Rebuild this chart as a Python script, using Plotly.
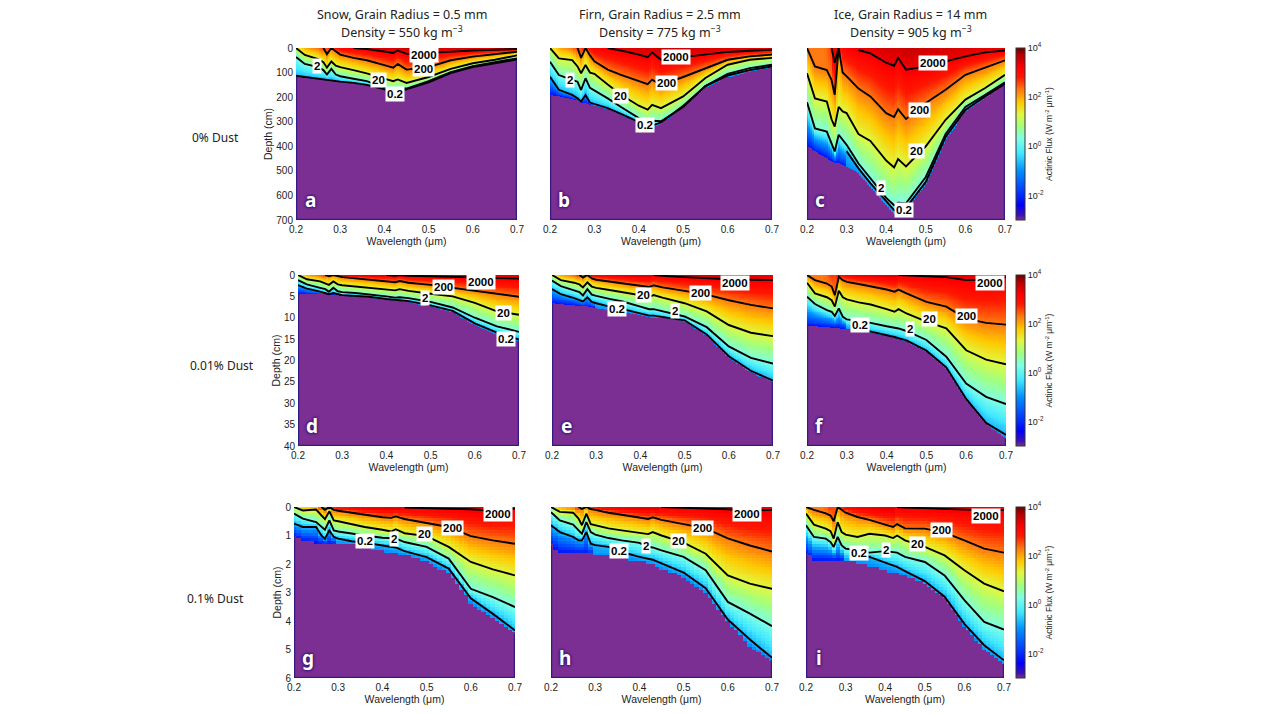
import numpy as np
import plotly.graph_objects as go

N = None
W = [.20, .22, .25, .262, .27, .28, .29, .30, .33, .36, .40, .42, .43, .45, .50, .55, .60, .65, .70]
LEVELS = [2000, 200, 20, 2, 0.2]
SURF = [1.3, 2.0, 2.4, 2.7, 2.6, 3.0, 3.1, 3.2, 3.35, 3.4, 3.5, 3.5, 3.5, 3.6, 3.55, 3.5, 3.45, 3.4, 3.35]

# Contour depths (cm) and bottom of the coloured region, per panel
a_2000 = [N, N, N, N, N, N, N, N, 0, 4, 14, 20, 10, 24, 20, 14, 10, 7, 4]
a_200 = [N, N, N, 0, 25, 0, 15, 27, 40, 50, 70, 80, 65, 88, 78, 50, 35, 25, 15]
a_20 = [0, 28, 45, 58, 80, 55, 72, 78, 90, 103, 125, 135, 128, 142, 118, 85, 62, 48, 30]
a_2 = [37, 65, 78, 90, 108, 85, 108, 115, 125, 135, 160, 168, 163, 165, 135, 98, 74, 58, 42]
a_02 = [113, 118, 125, 127, 129, 131, 134, 137, 142, 150, 168, 175, 175, 168, 140, 102, 78, 62, 47]
a_end = [118, 122, 128, 130, 132, 134, 137, 140, 145, 153, 172, 178, 178, 172, 143, 105, 80, 65, 50]

b_2000 = [N, N, N, N, N, N, N, N, 0, 10, 27, 37, 18, 48, 37, 27, 16, 11, 7]
b_200 = [N, N, N, 0, 40, 0, 30, 54, 88, 109, 136, 147, 129, 150, 118, 82, 48, 34, 27]
b_20 = [0, 42, 49, 75, 103, 69, 100, 105, 149, 190, 235, 251, 231, 245, 197, 122, 68, 48, 40]
b_2 = [56, 110, 130, 137, 171, 123, 162, 172, 205, 240, 285, 300, 296, 298, 240, 155, 105, 82, 68]
b_02 = [117, 170, 191, 205, 218, 191, 222, 228, 245, 268, 300, 318, 316, 303, 235, 155, 112, 90, 75]
b_end = [190, 196, 207, 214, 220, 224, 230, 235, 250, 272, 306, 326, 326, 308, 240, 163, 120, 96, 80]

c_2000 = [N, N, N, 0, 60, 0, N, N, 8, 22, 60, 72, 40, 88, 75, 54, 34, 18, 10]
c_200 = [0, 75, 90, 130, 190, 0, 100, 115, 165, 197, 265, 281, 249, 289, 224, 170, 109, 81, 50]
c_20 = [103, 205, 218, 290, 320, 240, 258, 265, 350, 378, 458, 486, 452, 482, 400, 292, 210, 163, 109]
c_2 = [221, 327, 340, 385, 421, 353, 375, 394, 470, 530, 610, 640, 630, 632, 525, 350, 240, 190, 140]
c_02 = [N, N, N, N, N, N, N, 420, 490, 550, 625, 660, 662, 650, 545, 362, 252, 197, 146]
c_end = [395, 420, 448, 460, 468, 470, 478, 485, 510, 565, 640, 675, 678, 660, 555, 372, 262, 205, 150]

d_2000 = [N, N, N, N, N, N, N, N, N, N, 0, .2, 0, .2, .3, .45, .6, .75, .85]
d_200 = [N, N, N, 0, .3, 0, .3, .5, .8, 1.1, 1.5, 1.7, 1.4, 1.8, 2.3, 3.0, 3.6, 4.4, 5.1]
d_20 = [0, 1.0, 1.5, 1.9, 2.3, 1.5, 2.2, 2.4, 2.7, 3.0, 3.3, 3.6, 3.3, 3.7, 4.4, 5.0, 6.5, 8.5, 9.3]
d_2 = [1.2, 2.2, 3.0, 3.3, 3.9, 3.0, 3.8, 4.0, 4.2, 4.5, 5.0, 5.3, 5.2, 5.4, 6.3, 7.6, 10.0, 12.0, 13.3]
d_02 = [2.4, 3.2, 3.9, 4.2, 4.5, 4.2, 4.5, 4.7, 4.9, 5.1, 5.6, 5.9, 5.9, 6.1, 7.1, 8.4, 11.3, 13.5, 15.1]
d_end = [4.3, 4.4, 4.5, 4.6, 4.6, 4.7, 4.8, 4.9, 5.1, 5.3, 5.8, 6.1, 6.1, 6.4, 7.4, 8.7, 11.8, 13.9, 15.4]

e_2000 = [N, N, N, N, N, N, N, N, N, N, N, N, 0, .2, .5, .8, 1.0, 1.1, 1.2]
e_200 = [N, N, N, 0, .6, 0, .8, 1.1, 1.5, 1.9, 2.5, 2.8, 2.4, 2.9, 3.7, 4.6, 5.9, 7.0, 7.8]
e_20 = [0, 1.2, 1.8, 2.2, 2.9, 1.7, 2.7, 3.0, 3.5, 4.0, 4.7, 5.1, 4.7, 5.3, 6.6, 8.5, 11.7, 13.5, 14.3]
e_2 = [1.3, 2.6, 3.6, 4.0, 4.8, 3.3, 4.6, 4.9, 5.6, 6.2, 7.4, 8.0, 8.0, 8.5, 9.7, 12.2, 16.7, 19.4, 20.7]
e_02 = [3.3, 4.5, 5.4, 5.8, 6.2, 5.2, 6.3, 6.6, 7.4, 8.0, 9.0, 9.5, 9.5, 9.8, 10.6, 13.9, 19.0, 22.4, 24.7]
e_end = [6.6, 6.8, 7.0, 7.2, 7.3, 7.4, 7.6, 7.8, 8.2, 8.7, 9.4, 9.8, 9.9, 10.0, 10.9, 14.2, 19.4, 22.8, 25.0]

f_2000 = [N, N, N, N, N, N, N, N, N, N, N, N, 0, .1, .3, .5, 1.2, 1.1, .5]
f_200 = [0, 1.2, 2, 2.7, 4.7, .4, 1.2, 1.6, 2.1, 2.6, 3.4, 3.9, 3.4, 4.3, 6.3, 7.4, 10.2, 11.2, 11.6]
f_20 = [1.8, 4.3, 5.2, 5.9, 7.4, 3.7, 5.2, 5.7, 6.4, 6.9, 8, 8.6, 8, 9, 10.9, 12.5, 17.6, 19.8, 20.9]
f_2 = [5.1, 6.8, 8.2, 8.6, 9.6, 7.8, 9.8, 10.4, 10.8, 11.2, 12, 12.3, 12.5, 13.1, 15.2, 19.1, 25.4, 28.5, 30.2]
f_02 = [N, N, N, N, N, N, N, N, 12.6, 13.2, 14, 14.5, 14.8, 15.3, 17.7, 21.6, 29, 34.6, 37.4]
f_end = [11.9, 12, 12.2, 12.3, 12.3, 12.4, 12.5, 12.6, 12.9, 13.5, 14.3, 14.8, 15.1, 15.6, 18, 21.9, 29.3, 35, 38.2]

g_2000 = [N, N, N, N, N, N, N, N, N, N, N, N, N, .02, .04, .05, .08, .13, .05]
g_200 = [N, N, N, 0, .1, 0, .1, .13, .2, .27, .36, .38, .33, .42, .55, .7, 1.02, 1.17, 1.29]
g_20 = [0, .12, .09, .3, .43, .15, .47, .5, .6, .7, .8, .86, .78, .92, 1.02, 1.4, 1.93, 2.19, 2.4]
g_2 = [.23, .41, .53, .7, .8, .47, .82, .86, .94, 1.0, 1.08, 1.1, 1.1, 1.23, 1.4, 1.81, 2.87, 3.16, 3.51]
g_02 = [.58, .7, .7, 1.0, 1.11, .82, 1.05, 1.11, 1.2, 1.25, 1.35, 1.4, 1.42, 1.55, 1.76, 2.16, 3.2, 3.75, 4.33]
g_end = [1.0, 1.2, 1.25, 1.3, 1.3, 1.3, 1.3, 1.3, 1.32, 1.4, 1.52, 1.6, 1.63, 1.67, 1.93, 2.3, 3.35, 3.9, 4.44]

h_2000 = [N, N, N, N, N, N, N, N, N, N, N, N, N, 0, .02, .04, .08, .13, .1]
h_200 = [N, N, N, 0, .07, 0, .07, .1, .2, .27, .37, .42, .36, .45, .6, .75, 1.1, 1.35, 1.56]
h_20 = [0, .17, .2, .4, .64, .23, .6, .64, .75, .82, .9, .95, .88, 1.0, 1.25, 1.64, 2.4, 2.69, 2.87]
h_2 = [.18, .47, .62, .82, .94, .53, .88, .97, 1.09, 1.17, 1.26, 1.4, 1.42, 1.52, 1.75, 2.22, 3.33, 3.74, 4.18]
h_02 = [.64, .88, 1.05, 1.17, 1.17, .88, 1.29, 1.34, 1.4, 1.58, 1.75, 1.82, 1.85, 1.98, 2.3, 2.85, 3.95, 4.65, 5.29]
h_end = [1.34, 1.58, 1.6, 1.6, 1.6, 1.62, 1.65, 1.67, 1.72, 1.81, 1.9, 1.98, 2.03, 2.16, 2.46, 2.98, 4.0, 4.85, 5.35]

i_2000 = [N, N, N, N, N, N, N, N, N, N, N, N, 0, .02, .04, .06, .08, .12, .1]
i_200 = [0, .1, .22, .3, .5, 0, .1, .2, .35, .45, .62, .7, .6, .75, .76, .9, 1.17, 1.46, 1.6]
i_20 = [.23, .62, .76, .85, 1.11, .53, .88, .97, 1.05, .94, 1.0, 1.09, 1.0, 1.17, 1.4, 1.7, 2.22, 2.69, 2.96]
i_2 = [.64, 1.05, 1.11, 1.23, 1.4, 1.05, 1.35, 1.46, 1.52, 1.6, 1.55, 1.6, 1.6, 1.75, 1.93, 2.4, 3.27, 4.03, 4.3]
i_02 = [N, N, N, N, N, N, N, N, 1.65, 1.75, 1.95, 2.05, 2.1, 2.25, 2.6, 3.15, 4.1, 4.85, 5.38]
i_end = [1.6, 1.87, 1.88, 1.88, 1.88, 1.89, 1.9, 1.9, 1.97, 2.05, 2.22, 2.3, 2.33, 2.4, 2.7, 3.2, 4.15, 5.0, 5.5]

LABELS = {
    'a': [(.49, 27), (.488, 84), (.387, 129), (.247, 75), (.424, 187)],
    'b': [(.483, 38), (.462, 143), (.358, 197), (.244, 129), (.413, 312)],
    'c': [(.519, 61), (.483, 254), (.477, 421), (.387, 571), (.445, 659)],
    'd': [(.615, 1.6), (.529, 2.75), (.664, 8.9), (.487, 5.3), (.671, 14.9)],
    'e': [(.613, 1.8), (.536, 4.1), (.406, 4.7), (.479, 8.4), (.347, 8.0)],
    'f': [(.66, 1.8), (.601, 9.6), (.509, 10.3), (.459, 12.7), (.334, 11.7)],
    'g': [(.662, .26), (.559, .74), (.496, .94), (.426, 1.11), (.36, 1.2)],
    'h': [(.644, .26), (.542, .73), (.489, 1.19), (.416, 1.38), (.354, 1.54)],
    'i': [(.655, .32), (.542, .82), (.482, 1.29), (.401, 1.5), (.333, 1.6)],
}
PANELS = {
    'a': (a_2000, a_200, a_20, a_2, a_02, a_end), 'b': (b_2000, b_200, b_20, b_2, b_02, b_end),
    'c': (c_2000, c_200, c_20, c_2, c_02, c_end), 'd': (d_2000, d_200, d_20, d_2, d_02, d_end),
    'e': (e_2000, e_200, e_20, e_2, e_02, e_end), 'f': (f_2000, f_200, f_20, f_2, f_02, f_end),
    'g': (g_2000, g_200, g_20, g_2, g_02, g_end), 'h': (h_2000, h_200, h_20, h_2, h_02, h_end),
    'i': (i_2000, i_200, i_20, i_2, i_02, i_end),
}
# Panel frames in pixels: left, right, top, bottom
FRAMES = {
    'a': (296, 517, 48, 220), 'b': (550, 772, 48, 220), 'c': (807, 1005, 48, 220),
    'd': (298, 519, 275, 446), 'e': (552, 773, 275, 446), 'f': (807, 1006, 275, 446),
    'g': (294, 515, 507, 678), 'h': (551, 772, 507, 678), 'i': (806, 1004, 507, 678),
}
DEPTH_MAX = {'a': 700, 'b': 700, 'c': 700, 'd': 40, 'e': 40, 'f': 40, 'g': 6, 'h': 6, 'i': 6}
DEPTH_TICKS = {700: [0, 100, 200, 300, 400, 500, 600, 700], 40: [0, 5, 10, 15, 20, 25, 30, 35, 40], 6: [0, 1, 2, 3, 4, 5, 6]}
X_TICKS = [.2, .3, .4, .5, .6, .7]
TITLES = [('Snow, Grain Radius = 0.5 mm', 'Density = 550 kg m<sup>−3</sup>', 402),
          ('Firn, Grain Radius = 2.5 mm', 'Density = 775 kg m<sup>−3</sup>', 660),
          ('Ice, Grain Radius = 14 mm', 'Density = 905 kg m<sup>−3</sup>', 911)]
ROWS = [('0% Dust', 215, 137), ('0.01% Dust', 222, 366), ('0.1% Dust', 215, 598)]

CMIN, CMAX = -3.0, 4.0
STOPS = [(-3, '#7b2f93'), (-2.8, '#3c12b4'), (-2.4, '#0000ff'), (-1, '#0090ff'), (-.3, '#40e8ff'), (.3, '#80ffe4'),
         (.8, '#a0ff80'), (1.3, '#e0f840'), (1.8, '#ffc800'), (2.3, '#ff7a10'), (2.8, '#ff1800'), (3.2, '#ff0000'), (3.7, '#b80000'), (4, '#6a0000')]
SCALE = [[(v - CMIN) / (CMAX - CMIN), c] for v, c in STOPS]

wa = np.array(W)
surf = np.array(SURF)


def depth_at(series, w):
    """Depth of a read contour at w; nan where the contour is not present."""
    s = np.array(series, dtype=float)
    k = np.clip(np.searchsorted(wa, w) - 1, 0, len(wa) - 2)
    if np.isnan(s[k]) or np.isnan(s[k + 1]):
        return np.nan
    return s[k] + (s[k + 1] - s[k]) * (w - wa[k]) / (wa[k + 1] - wa[k])


def shade(key):
    """Colour field derived only from the contour depths read above (log10 flux between lines)."""
    series = PANELS[key]
    dmax = DEPTH_MAX[key]
    if dmax == 6:
        ws, ds = np.arange(.2, .7001, .01), np.arange(.05, 6, .1)
    elif dmax == 40:
        ws, ds = np.arange(.2, .7001, .005), np.arange(.05, 40, .2)
    else:
        ws, ds = np.arange(.2, .7001, .005), np.arange(1, 700, 2.0)
    z = np.full((len(ds), len(ws)), CMIN)
    for j, w in enumerate(ws):
        end = depth_at(series[5], w)
        pd, pv = [], []
        for lev, s in zip(LEVELS, series[:5]):
            d = depth_at(s, w)
            if not np.isnan(d):
                pd.append(d)
                pv.append(np.log10(lev))
        top = max(np.interp(w, wa, surf), pv[0] if pv else 0)
        if not pd or pd[0] > 0:
            pd.insert(0, 0.0)
            pv.insert(0, top)
        pd.append(end)
        pv.append(-2.2 if w < .3 else -1.0)
        pd = np.maximum.accumulate(pd)
        col = np.interp(ds, pd, pv)
        col[ds > end] = CMIN
        z[:, j] = col
    return ws, ds, z


fig = go.Figure()
layout = {}
anns = []
LABEL_FONT = dict(family='Liberation Sans', size=11.5, color='black', weight='bold')
TICK_FONT = dict(family='Liberation Sans', size=10, color='#222222')
for n, key in enumerate('abcdefghi', start=1):
    L, R, T, B = FRAMES[key]
    sfx = '' if n == 1 else str(n)
    xa, ya = 'x' + sfx, 'y' + sfx
    dmax = DEPTH_MAX[key]
    ws, ds, z = shade(key)
    hm = dict(x=ws, y=ds, z=z, zmin=CMIN, zmax=CMAX, colorscale=SCALE, xaxis=xa, yaxis=ya, hoverinfo='skip', showscale=False)
    if key in 'cfi':
        hm.update(showscale=True, colorbar=dict(
            x=1016 / 1279, xanchor='left', xpad=0, ypad=0, thickness=9, thicknessmode='pixels',
            y=1 - (T + B) / 2 / 714, yanchor='middle', len=(B - T) / 714, lenmode='fraction',
            tickvals=[-2, 0, 2, 4], ticktext=['10<sup>-2</sup>', '10<sup>0</sup>', '10<sup>2</sup>', '10<sup>4</sup>'],
            ticks='', outlinewidth=1, outlinecolor='#333333', tickfont=dict(family='Liberation Sans', size=9, color='#222'),
            title=dict(text='Actinic Flux (W m<sup>-2</sup> μm<sup>-1</sup>)', side='right',
                       font=dict(family='Liberation Sans', size=8.5, color='#222'))))
    fig.add_trace(go.Heatmap(**hm))
    for lev, s in zip(LEVELS, PANELS[key][:5]):
        fig.add_trace(go.Scatter(x=W, y=[np.nan if v is None else v for v in s], mode='lines', xaxis=xa, yaxis=ya,
                                 line=dict(color='black', width=1.9), connectgaps=False, showlegend=False, hoverinfo='skip'))
    # dark edge of the purple region only: left side, bottom, right side
    end_series = PANELS[key][5]
    fig.add_trace(go.Scatter(x=[W[0], W[0], W[-1], W[-1]], y=[end_series[0], dmax, dmax, end_series[-1]], mode='lines', xaxis=xa, yaxis=ya,
                             line=dict(color='#351a85', width=2.5), cliponaxis=False, showlegend=False, hoverinfo='skip'))
    for lev, (lx, ly) in zip(LEVELS, LABELS[key]):
        anns.append(dict(x=lx, y=ly, xref=xa, yref=ya, text=str(lev), showarrow=False, bgcolor='white', borderpad=1, font=LABEL_FONT))
    anns.append(dict(x=.065, y=.116, xref=xa + ' domain', yref=ya + ' domain', text=key, showarrow=False, xanchor='center', yanchor='middle',
                     font=dict(family='Noto Sans', size=19, color='white', weight='bold', shadow='0 0 3px #2a0a6a, 0 0 3px #2a0a6a')))
    layout['xaxis' + sfx] = dict(domain=[L / 1279, R / 1279], range=[.2, .7], anchor=ya, tickvals=X_TICKS, ticktext=['0.2', '0.3', '0.4', '0.5', '0.6', '0.7'],
                                 ticks='', ticklabelstandoff=2, showgrid=False, zeroline=False, showline=False,
                                 tickfont=TICK_FONT, title=dict(text='Wavelength (μm)', font=dict(family='Liberation Sans', size=10.5, color='#222'), standoff=1))
    layout['yaxis' + sfx] = dict(domain=[1 - B / 714, 1 - T / 714], range=[dmax, 0], anchor=xa, tickvals=DEPTH_TICKS[dmax],
                                 ticks='', ticklabelstandoff=2, showgrid=False, zeroline=False, showline=False,
                                 showticklabels=key in 'adg', tickfont=TICK_FONT,
                                 title=dict(text='Depth (cm)' if key in 'adg' else '', font=dict(family='Liberation Sans', size=10.5, color='#222'), standoff=1))

for t1, t2, xc in TITLES:
    for txt, yc in ((t1, 14), (t2, 32)):
        anns.append(dict(x=xc / 1279, y=1 - yc / 714, xref='paper', yref='paper', text=txt, showarrow=False, xanchor='center', yanchor='middle',
                         font=dict(family='Noto Sans', size=12.5, color='#222')))
for text, xc, yc in ROWS:
    anns.append(dict(x=xc / 1279, y=1 - yc / 714, xref='paper', yref='paper', text=text, showarrow=False, xanchor='center', yanchor='middle',
                     font=dict(family='Noto Sans', size=12, color='#222')))

fig.update_layout(width=1279, height=714, autosize=False, margin=dict(l=0, r=0, t=0, b=0, autoexpand=False), paper_bgcolor='white', plot_bgcolor='white',
                  showlegend=False, annotations=anns, **layout)
fig.write_html('out.html', config={'displayModeBar': False}, post_script="document.body.style.margin='0';document.body.style.overflow='hidden';")
